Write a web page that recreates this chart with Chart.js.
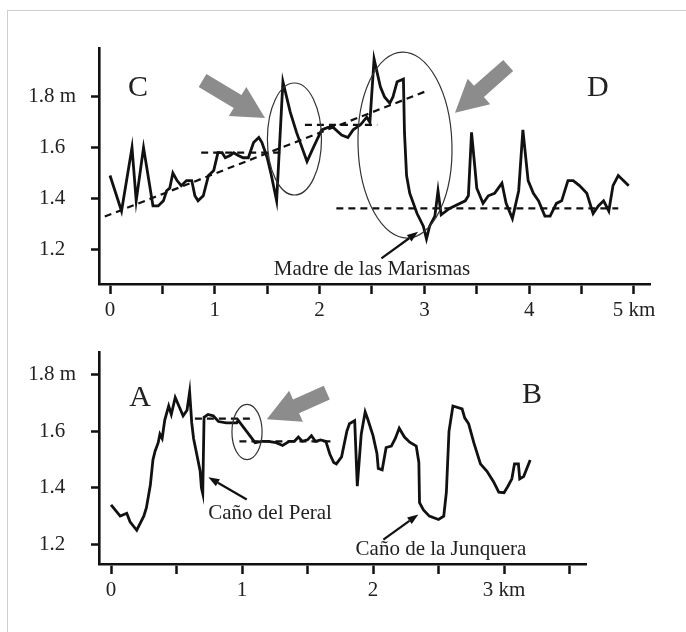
<!DOCTYPE html>
<html>
<head>
<meta charset="utf-8">
<script src="https://cdn.jsdelivr.net/npm/chart.js@4/dist/chart.umd.min.js"></script>
<style>
  html, body { margin: 0; padding: 0; background: #fff; overflow: hidden; }
  body { width: 686px; height: 632px; position: relative; }
  .frame { position: absolute; left: 7px; top: 10px; width: 700px; height: 640px; border: 1px solid #cfcfcf; }
  .panel { position: absolute; left: 0; width: 686px; }
  #topWrap { top: 0; height: 325px; }
  #botWrap { top: 325px; height: 307px; }
</style>
</head>
<body>
<div class="frame"></div>
<div class="panel" id="topWrap"><canvas id="profileCD"></canvas></div>
<div class="panel" id="botWrap"><canvas id="profileAB"></canvas></div>
<script>
// profile C-D (km, m)
var kmC = [0.00, 0.11, 0.21, 0.25, 0.32, 0.41, 0.46, 0.51, 0.54, 0.57, 0.60, 0.64, 0.68, 0.73, 0.78, 0.81, 0.84, 0.89, 0.94, 0.99,
           1.03, 1.07, 1.10, 1.15, 1.18, 1.22, 1.27, 1.32, 1.37, 1.42, 1.45, 1.50, 1.54, 1.59, 1.65, 1.72, 1.78, 1.88, 1.94, 2.02,
           2.08, 2.13, 2.21, 2.27, 2.32, 2.39, 2.45, 2.48, 2.52, 2.58, 2.62, 2.67, 2.70, 2.74, 2.80, 2.81, 2.83, 2.86, 2.93, 2.99,
           3.02, 3.05, 3.10, 3.13, 3.16, 3.24, 3.39, 3.42, 3.45, 3.48, 3.50, 3.56, 3.61, 3.67, 3.74, 3.78, 3.84, 3.90, 3.94, 3.99,
           4.04, 4.09, 4.15, 4.20, 4.26, 4.31, 4.37, 4.42, 4.48, 4.55, 4.61, 4.66, 4.71, 4.76, 4.80, 4.85, 4.95];
var elevC = [1.49, 1.35, 1.60, 1.39, 1.60, 1.37, 1.37, 1.39, 1.43, 1.44, 1.50, 1.47, 1.45, 1.47, 1.47, 1.41, 1.39, 1.41, 1.49, 1.51,
             1.58, 1.58, 1.56, 1.57, 1.58, 1.57, 1.56, 1.56, 1.62, 1.64, 1.62, 1.56, 1.49, 1.39, 1.86, 1.74, 1.66, 1.545, 1.60, 1.67,
             1.68, 1.68, 1.65, 1.64, 1.67, 1.69, 1.72, 1.70, 1.95, 1.84, 1.80, 1.775, 1.80, 1.86, 1.87, 1.66, 1.49, 1.42, 1.34, 1.29,
             1.24, 1.29, 1.33, 1.43, 1.335, 1.36, 1.39, 1.41, 1.66, 1.53, 1.44, 1.38, 1.41, 1.42, 1.46, 1.38, 1.32, 1.43, 1.67, 1.47,
             1.42, 1.39, 1.33, 1.33, 1.38, 1.39, 1.47, 1.47, 1.45, 1.42, 1.34, 1.37, 1.39, 1.35, 1.45, 1.49, 1.45];
var dashC = [[-0.05, 1.328, 3.0, 1.82], [0.87, 1.58, 1.63, 1.58], [1.86, 1.69, 2.55, 1.69], [2.16, 1.36, 4.85, 1.36]];
var xTicksC = [0, 0.5, 1, 1.5, 2, 2.5, 3, 3.5, 4, 4.5, 5];
var xLabelsC = ['0', '', '1', '', '2', '', '3', '', '4', '', '5 km'];

// profile A-B (km, m)
var kmA = [0.00, 0.07, 0.12, 0.145, 0.196, 0.25, 0.27, 0.30, 0.32, 0.336, 0.36, 0.373, 0.39, 0.41, 0.44, 0.46, 0.49, 0.527, 0.55, 0.58,
           0.60, 0.616, 0.63, 0.654, 0.68, 0.69, 0.70, 0.71, 0.74, 0.78, 0.82, 0.88, 0.96, 0.97, 1.10, 1.15, 1.20, 1.26, 1.31, 1.36,
           1.40, 1.43, 1.46, 1.50, 1.53, 1.56, 1.60, 1.64, 1.67, 1.70, 1.72, 1.76, 1.80, 1.82, 1.86, 1.88, 1.91, 1.94, 1.96, 2.00,
           2.03, 2.04, 2.07, 2.10, 2.14, 2.17, 2.20, 2.24, 2.28, 2.33, 2.35, 2.355, 2.385, 2.43, 2.50, 2.54, 2.56, 2.58, 2.61, 2.68,
           2.70, 2.73, 2.77, 2.82, 2.87, 2.92, 2.96, 3.00, 3.03, 3.06, 3.08, 3.11, 3.12, 3.15, 3.20];
var elevA = [1.34, 1.30, 1.31, 1.28, 1.25, 1.30, 1.33, 1.41, 1.50, 1.53, 1.56, 1.59, 1.575, 1.64, 1.69, 1.66, 1.72, 1.68, 1.655, 1.675,
             1.74, 1.63, 1.575, 1.52, 1.46, 1.40, 1.38, 1.65, 1.66, 1.655, 1.635, 1.63, 1.63, 1.64, 1.56, 1.565, 1.565, 1.56, 1.55, 1.565,
             1.565, 1.58, 1.565, 1.57, 1.585, 1.565, 1.57, 1.565, 1.52, 1.49, 1.485, 1.51, 1.60, 1.627, 1.638, 1.406, 1.59, 1.669, 1.643, 1.585,
             1.522, 1.469, 1.464, 1.543, 1.548, 1.575, 1.611, 1.58, 1.562, 1.548, 1.49, 1.348, 1.322, 1.30, 1.288, 1.30, 1.385, 1.60, 1.69, 1.68,
             1.648, 1.627, 1.559, 1.485, 1.459, 1.422, 1.385, 1.383, 1.406, 1.432, 1.485, 1.485, 1.432, 1.44, 1.499];
var dashA = [[0.64, 1.645, 1.09, 1.645], [0.98, 1.565, 1.70, 1.565]];
var xTicksA = [0, 0.5, 1, 1.5, 2, 2.5, 3, 3.5];
var xLabelsA = ['0', '', '1', '', '2', '', '3 km', ''];

var yTicks = [1.2, 1.4, 1.6, 1.8];
var yLabels = ['1.2', '1.4', '1.6', '1.8 m'];

Chart.defaults.font.family = '"Liberation Serif", "Times New Roman", serif';
Chart.defaults.font.size = 21;
Chart.defaults.color = '#222';

function blockArrow(ctx, x0, y0, x1, y1, shaftW, headW, headL) {
    var dx = x1 - x0, dy = y1 - y0, L = Math.hypot(dx, dy);
    var ux = dx / L, uy = dy / L, nx = -uy, ny = ux;
    var bx = x1 - ux * headL, by = y1 - uy * headL;
    ctx.beginPath();
    ctx.moveTo(x0 + nx * shaftW / 2, y0 + ny * shaftW / 2);
    ctx.lineTo(bx + nx * shaftW / 2, by + ny * shaftW / 2);
    ctx.lineTo(bx + nx * headW / 2, by + ny * headW / 2);
    ctx.lineTo(x1, y1);
    ctx.lineTo(bx - nx * headW / 2, by - ny * headW / 2);
    ctx.lineTo(bx - nx * shaftW / 2, by - ny * shaftW / 2);
    ctx.lineTo(x0 - nx * shaftW / 2, y0 - ny * shaftW / 2);
    ctx.closePath();
    ctx.fill();
}

function thinArrow(ctx, x0, y0, x1, y1) {
    var dx = x1 - x0, dy = y1 - y0, L = Math.hypot(dx, dy);
    var ux = dx / L, uy = dy / L, nx = -uy, ny = ux;
    var bx = x1 - ux * 11, by = y1 - uy * 11;
    ctx.beginPath();
    ctx.moveTo(x0, y0);
    ctx.lineTo(bx, by);
    ctx.lineWidth = 2.2;
    ctx.stroke();
    ctx.beginPath();
    ctx.moveTo(x1, y1);
    ctx.lineTo(bx + nx * 4, by + ny * 4);
    ctx.lineTo(bx - nx * 4, by - ny * 4);
    ctx.closePath();
    ctx.fill();
}

// extra figure marks (ellipses, arrows, captions) placed in data units
function figureMarks(marks) {
    return {
        id: 'figureMarks',
        afterDatasetsDraw: function(chart) {
            var ctx = chart.ctx, x = chart.scales.x, y = chart.scales.y;
            var px = function(v) { return x.getPixelForValue(v); };
            var py = function(v) { return y.getPixelForValue(v); };
            ctx.save();
            ctx.strokeStyle = '#333';
            marks.ellipses.forEach(function(e) {
                var cx = px(e[0]), cy = py(e[1]);
                ctx.beginPath();
                ctx.ellipse(cx, cy, Math.abs(px(e[0] + e[2]) - cx), Math.abs(py(e[1] + e[3]) - cy), e[4] || 0, 0, Math.PI * 2);
                ctx.lineWidth = 1.2;
                ctx.stroke();
            });
            ctx.fillStyle = '#8c8c8c';
            marks.bigArrows.forEach(function(a) {
                blockArrow(ctx, px(a[0]), py(a[1]), px(a[2]), py(a[3]), 15, 34, 32);
            });
            ctx.strokeStyle = '#111';
            ctx.fillStyle = '#111';
            marks.pointers.forEach(function(a) {
                thinArrow(ctx, px(a[0]), py(a[1]), px(a[2]), py(a[3]));
            });
            ctx.textAlign = 'center';
            ctx.textBaseline = 'middle';
            ctx.fillStyle = '#222';
            marks.captions.forEach(function(t) {
                ctx.font = t[3] + 'px "Liberation Serif", serif';
                ctx.fillText(t[0], px(t[1]), py(t[2]));
            });
            ctx.restore();
        }
    };
}

function makeChart(id, km, elev, dashes, xTicks, xLabels, xMin, xMax, yMin, yMax, pad, xAxisH, marks) {
    var datasets = [{
        data: km.map(function(k, i) { return {x: k, y: elev[i]}; }),
        borderColor: '#111',
        borderWidth: 2.8,
        pointRadius: 0,
        tension: 0
    }];
    dashes.forEach(function(d) {
        datasets.push({
            data: [{x: d[0], y: d[1]}, {x: d[2], y: d[3]}],
            borderColor: '#111',
            borderWidth: 2.2,
            borderDash: [7, 5],
            pointRadius: 0
        });
    });
    return new Chart(document.getElementById(id).getContext('2d'), {
        type: 'line',
        data: { datasets: datasets },
        options: {
            responsive: true,
            maintainAspectRatio: false,
            animation: false,
            events: [],
            layout: { padding: pad },
            plugins: { legend: { display: false }, tooltip: { enabled: false } },
            scales: {
                x: {
                    type: 'linear',
                    min: xMin,
                    max: xMax,
                    afterBuildTicks: function(scale) { scale.ticks = xTicks.map(function(v) { return {value: v}; }); },
                    afterFit: function(scale) { scale.height = xAxisH; },
                    ticks: {
                        autoSkip: false,
                        maxRotation: 0,
                        padding: 4,
                        callback: function(v, i) { return xLabels[i]; }
                    },
                    grid: { drawOnChartArea: false, drawTicks: true, tickLength: 10, tickWidth: 2.5, tickColor: '#111' },
                    border: { display: true, color: '#111', width: 2.6 }
                },
                y: {
                    type: 'linear',
                    min: yMin,
                    max: yMax,
                    afterBuildTicks: function(scale) { scale.ticks = yTicks.map(function(v) { return {value: v}; }); },
                    afterFit: function(scale) { scale.width = 99; },
                    ticks: {
                        crossAlign: 'center',
                        padding: 15,
                        callback: function(v, i) { return yLabels[i]; }
                    },
                    grid: { drawOnChartArea: false, drawTicks: true, tickLength: 8, tickWidth: 2.5, tickColor: '#111' },
                    border: { display: true, color: '#111', width: 2.6 }
                }
            }
        },
        plugins: [figureMarks(marks)]
    });
}

var marksCD = {
    ellipses: [[1.76, 1.634, 0.258, 0.221], [2.815, 1.61, 0.448, 0.367, -0.03]],
    bigArrows: [[0.883, 1.865, 1.479, 1.717], [3.80, 1.924, 3.292, 1.738]],
    pointers: [[2.59, 1.163, 2.94, 1.268]],
    captions: [['C', 0.267, 1.836, 30], ['D', 4.656, 1.836, 30], ['Madre de las Marismas', 2.5, 1.12, 21]]
};
var marksAB = {
    ellipses: [[1.038, 1.598, 0.115, 0.098]],
    bigArrows: [[1.647, 1.737, 1.189, 1.643]],
    pointers: [[1.036, 1.359, 0.743, 1.438], [2.079, 1.217, 2.346, 1.306]],
    captions: [['A', 0.221, 1.718, 30], ['B', 3.214, 1.727, 30],
               ['Caño del Peral', 1.214, 1.31, 21], ['Caño de la Junquera', 2.519, 1.181, 21]]
};

makeChart('profileCD', kmC, elevC, dashC, xTicksC, xLabelsC, -0.105, 5.153, 1.062, 1.993,
          { left: 0, top: 48, right: 36, bottom: 0 }, 41, marksCD);
makeChart('profileAB', kmA, elevA, dashA, xTicksA, xLabelsA, -0.092, 3.626, 1.1305, 1.879,
          { left: 0, top: 2, right: 100, bottom: 0 }, 68, marksAB);
</script>
</body>
</html>
